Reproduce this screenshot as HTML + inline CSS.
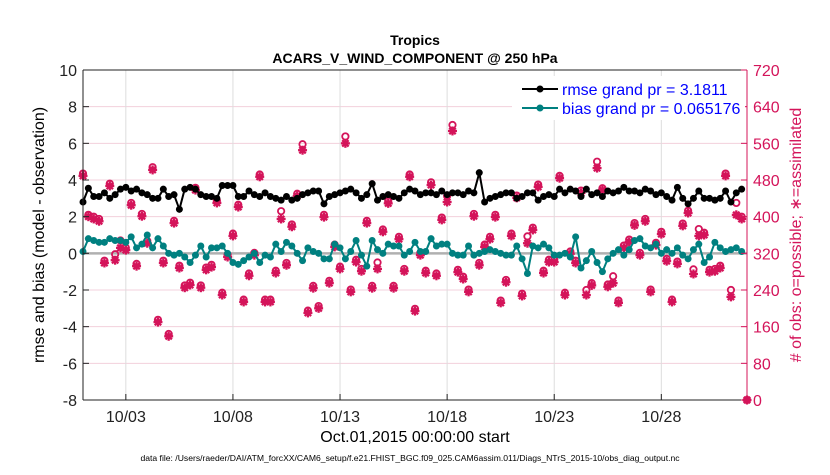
<!DOCTYPE html>
<html><head><meta charset="utf-8"><style>
body{margin:0;background:#fff;}
svg text{font-family:"Liberation Sans",Arial,sans-serif;}
</style></head><body>
<svg id="chart" width="830" height="470" xmlns="http://www.w3.org/2000/svg">
<rect width="830" height="470" fill="#fff"/>
<g id="grid"></g>
<g id="marks"></g>
<g id="axes"></g>
<text x="415" y="45" text-anchor="middle" font-size="14" font-weight="bold">Tropics</text>
<text x="415" y="63" text-anchor="middle" font-size="14" font-weight="bold">ACARS_V_WIND_COMPONENT @ 250 hPa</text>
<text transform="translate(44,235) rotate(-90)" text-anchor="middle" font-size="16">rmse and bias (model - observation)</text>
<text transform="translate(801,235) rotate(-90)" text-anchor="middle" font-size="16" fill="#d4145a"># of obs: o=possible; ∗=assimilated</text>
<text x="415" y="442" text-anchor="middle" font-size="16">Oct.01,2015 00:00:00 start</text>
<text x="410" y="461" text-anchor="middle" font-size="8.6">data file: /Users/raeder/DAI/ATM_forcXX/CAM6_setup/f.e21.FHIST_BGC.f09_025.CAM6assim.011/Diags_NTrS_2015-10/obs_diag_output.nc</text>
<g>
<rect x="512" y="76" width="233" height="44" fill="#fff"/>
<line x1="522" y1="89" x2="558" y2="89" stroke="#000" stroke-width="2"/>
<circle cx="540" cy="89" r="3.5" fill="#000"/>
<text x="562" y="95" font-size="16" fill="#0000ff">rmse grand pr = 3.1811</text>
<line x1="522" y1="108" x2="558" y2="108" stroke="#008080" stroke-width="2"/>
<circle cx="540" cy="108" r="3.5" fill="#008080"/>
<text x="562" y="114" font-size="16" fill="#0000ff">bias grand pr = 0.065176</text>
</g>
</svg>
<script>
const rmse=[2.8,3.55,3.1,3.1,3.3,3.0,3.2,3.5,3.6,3.4,3.5,3.3,3.2,3.0,3.0,3.5,3.1,3.2,2.4,3.5,3.6,3.5,3.2,3.1,3.1,3.0,3.7,3.7,3.7,3.1,3.1,3.4,3.2,3.1,3.3,
3.1,3.0,2.9,3.1,2.9,3.0,3.2,3.3,3.4,3.4,2.7,3.1,3.2,3.3,3.4,3.5,3.3,3.0,3.2,3.8,2.9,3.1,3.2,3.1,3.0,3.3,3.5,3.4,3.2,
3.3,3.3,3.2,3.4,3.2,3.3,3.3,3.2,3.4,3.3,4.4,2.8,3.0,3.1,3.2,3.3,3.3,3.0,3.1,3.3,3.3,2.9,3.1,3.2,3.1,3.5,3.3,3.5,3.4,3.1,
3.5,3.2,3.3,3.1,3.4,3.3,3.4,3.6,3.4,3.4,3.3,3.5,3.4,3.2,3.3,3.1,2.9,3.6,3.0,2.7,3.0,3.4,3.0,3.0,2.9,3.0,3.4,2.8,3.3,3.5,null];
const bias=[0.1,0.8,0.7,0.6,0.6,0.8,0.7,0.7,0.6,0.9,0.3,0.5,1.0,0.3,0.8,0.4,0.0,-0.1,0.0,-0.2,-0.5,-0.1,0.4,-0.2,0.3,0.3,0.4,0.0,-0.5,-0.6,-0.4,-0.2,0.0,-0.5,-0.1,
-0.2,0.5,0.1,0.6,0.4,0.0,-0.4,0.3,0.1,0.0,-0.3,-0.3,0.5,0.3,-0.3,0.1,0.7,-0.1,-0.7,0.7,0.2,0.0,0.5,0.4,0.4,-0.1,0.1,0.6,0.1,
0.1,0.8,0.4,0.5,0.5,0.0,-0.1,-0.1,0.4,-0.1,0.0,0.1,0.2,0.1,0.0,-0.1,-0.1,0.4,-0.3,-1.1,0.4,0.3,0.5,0.3,-0.1,-0.1,0.0,-0.2,0.9,-0.8,
-0.4,0.1,-0.5,-1.0,-0.3,0.0,0.2,-0.1,0.2,0.7,0.8,0.4,0.3,0.5,0.0,0.2,0.0,0.3,-0.1,-0.3,0.2,0.5,-0.5,-0.2,0.6,0.3,0.1,0.2,0.3,0.1,null];
const assimilated=[489,400,395,390,299,467,305,332,327,425,292,401,342,502,170,299,139,386,288,245,251,458,245,284,290,430,229,312,358,421,214,271,316,487,214,
214,277,395,294,378,445,545,190,244,200,399,255,334,286,560,236,301,281,386,244,286,367,429,244,351,281,487,194,316,277,
469,271,393,432,587,279,264,236,401,294,334,351,399,212,257,358,441,227,342,371,465,277,301,301,484,229,319,299,452,229,
250,506,458,247,255,212,332,345,381,316,390,236,338,362,303,214,297,380,408,275,358,360,279,281,288,489,225,404,395,0];
const possible=[494,404,400,395,304,472,318,348,332,430,297,406,347,508,175,304,144,391,293,250,256,463,250,289,295,435,234,317,363,426,219,276,321,492,219,
219,282,412,299,383,450,558,195,249,205,404,260,339,291,575,241,306,286,391,249,300,372,434,249,356,286,492,199,321,282,
475,276,398,445,600,284,269,241,406,299,339,356,404,217,262,363,446,232,357,376,470,282,306,306,489,234,324,304,457,240,
255,520,462,252,270,217,337,350,386,321,395,241,343,367,308,219,302,385,413,285,373,365,284,286,293,494,240,430,400,0];
const yTicks=[-8,-6,-4,-2,0,2,4,6,8,10];
const y2Ticks=[0,80,160,240,320,400,480,560,640,720];
const xTickLabels=["10/03","10/08","10/13","10/18","10/23","10/28"];
const xTickDays=[2,7,12,17,22,27];

const X0=83,X1=747,Y0=70,Y1=400;
const xs=t=>X0+t/31*(X1-X0);
const ys=v=>Y1-(v+8)/18*(Y1-Y0);
const ys2=n=>Y1-n/720*(Y1-Y0);
const tOf=k=>k*0.25;
const NS="http://www.w3.org/2000/svg";
function mk(tag,attrs,parent){const e=document.createElementNS(NS,tag);for(const k in attrs)e.setAttribute(k,attrs[k]);parent.appendChild(e);return e;}
const grid=document.getElementById('grid'),marks=document.getElementById('marks'),axes=document.getElementById('axes');
const PINK="#d4145a";
y2Ticks.forEach(n=>{const l=mk('line',{x1:X0,x2:X1,y1:ys2(n),y2:ys2(n),stroke:'#f3d0dc','stroke-width':1},grid);

});
xTickDays.forEach(d=>{const l=mk('line',{x1:xs(d),x2:xs(d),y1:Y0,y2:Y1,stroke:'#dddddd','stroke-width':1},grid);

});
const zl=mk('line',{x1:X0,x2:X1,y1:ys(0),y2:ys(0),stroke:'#b0b0b0','stroke-width':2.5},grid);


assimilated.forEach((n,k)=>{const x=xs(tOf(k)),y=ys2(n),r=4.5;
const g=mk('g',{stroke:PINK,'stroke-width':2.3,fill:'none'},marks);


mk('line',{x1:x-r,x2:x+r,y1:y,y2:y},g);mk('line',{x1:x,x2:x,y1:y-r,y2:y+r},g);
mk('line',{x1:x-3.2,x2:x+3.2,y1:y-3.2,y2:y+3.2},g);mk('line',{x1:x-3.2,x2:x+3.2,y1:y+3.2,y2:y-3.2},g);});
possible.forEach((n,k)=>{const c=mk('circle',{cx:xs(tOf(k)),cy:ys2(n),r:3.2,stroke:PINK,'stroke-width':1.8,fill:'none'},marks);

});
function series(vals,color,name){let d='';vals.forEach((v,k)=>{if(v===null)return;d+=(d?'L':'M')+xs(tOf(k)).toFixed(1)+','+ys(v).toFixed(1);});
const p=mk('path',{d:d,stroke:color,'stroke-width':2,fill:'none'},marks);


vals.forEach((v,k)=>{if(v===null)return;const c=mk('circle',{cx:xs(tOf(k)),cy:ys(v),r:3.5,fill:color},marks);

});}
series(bias,'#008080','bias');
series(rmse,'#000000','rmse');
mk('line',{x1:X0,x2:X0,y1:Y0,y2:Y1,stroke:'#222','stroke-width':1},axes);
mk('line',{x1:X0,x2:X1,y1:Y0,y2:Y0,stroke:'#222','stroke-width':1},axes);
mk('line',{x1:X0,x2:X1,y1:Y1,y2:Y1,stroke:'#222','stroke-width':1},axes);
mk('line',{x1:X1,x2:X1,y1:Y0,y2:Y1,stroke:PINK,'stroke-width':1},axes);
yTicks.forEach(v=>{mk('line',{x1:X0,x2:X0+6,y1:ys(v),y2:ys(v),stroke:'#222'},axes);
const t=mk('text',{x:X0-6,y:ys(v)+6,'text-anchor':'end','font-size':16,fill:'#222'},axes);t.textContent=v;

});
y2Ticks.forEach(n=>{mk('line',{x1:X1-6,x2:X1,y1:ys2(n),y2:ys2(n),stroke:PINK},axes);
const t=mk('text',{x:X1+6,y:ys2(n)+6,'font-size':16,fill:PINK},axes);t.textContent=n;

});
xTickDays.forEach((d,i)=>{mk('line',{x1:xs(d),x2:xs(d),y1:Y1,y2:Y1-6,stroke:'#222'},axes);
const t=mk('text',{x:xs(d),y:Y1+22,'text-anchor':'middle','font-size':16,fill:'#222'},axes);t.textContent=xTickLabels[i];

});
</script>
</body></html>
